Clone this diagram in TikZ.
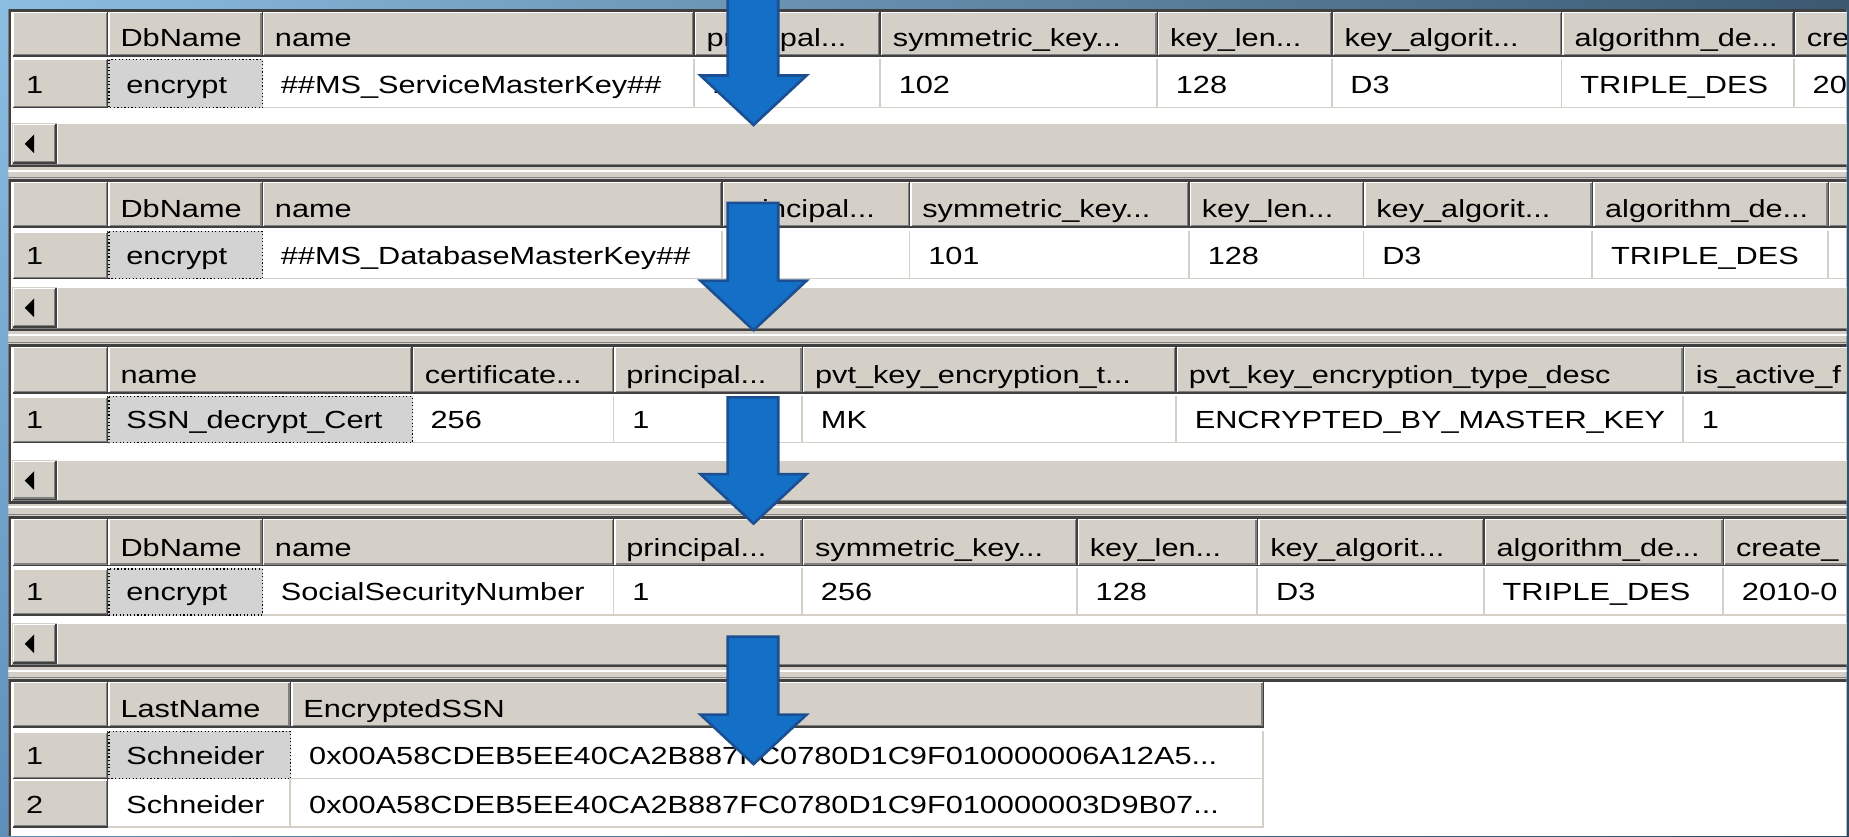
\documentclass[tikz,border=0pt]{standalone}
\usepackage{fontspec}
\setmainfont{Liberation Sans}[FakeStretch=1.24]
\usetikzlibrary{shadings}
\definecolor{bgA}{HTML}{8CBEE2}
\definecolor{bgB}{HTML}{3A5870}
\definecolor{bgC}{HTML}{5E8FBA}
\definecolor{bgD}{HTML}{2E4B63}
\definecolor{hdrfill}{HTML}{D4D0C8}
\definecolor{shdmid}{HTML}{808080}
\definecolor{shddark}{HTML}{404040}
\definecolor{gridc}{HTML}{D4D0C8}
\definecolor{selfill}{HTML}{D3D3D3}
\definecolor{arrowfill}{HTML}{146FC7}
\definecolor{arrowline}{HTML}{1B4F91}
\tikzset{
  txt/.style={inner sep=0pt, anchor=base west, font=\fontsize{21}{21}\selectfont, text=black},
  arrowshape/.style={draw=arrowline, fill=arrowfill, line width=2.2pt, line join=miter},
}
% header / button cell: name, x1, x2, y1, y2, text
\newcommand\HdrCell[6]{%
  \fill[hdrfill] (#2,#4) rectangle (#3,#5);
  \draw[shddark, line width=1.2pt] (#2,#5-0.6) -- (#3-0.6,#5-0.6) -- (#3-0.6,#4);
  \draw[shdmid, line width=1.2pt] (#2+1.2,#5-1.8) -- (#3-1.8,#5-1.8) -- (#3-1.8,#4+1.2);
  \draw[white, line width=1.2pt] (#2+0.6,#5-1.2) -- (#2+0.6,#4+0.6) -- (#3-1.2,#4+0.6);
  \node[txt] (#1) at (#2+10,#5-8.5) {#6};}
\newcommand\RowHdr[6]{%
  \fill[hdrfill] (#2,#4) rectangle (#3,#5);
  \draw[shddark, line width=1.2pt] (#2,#5-0.6) -- (#3-0.6,#5-0.6) -- (#3-0.6,#4);
  \draw[shdmid, line width=1.2pt] (#2+1.2,#5-1.8) -- (#3-1.8,#5-1.8) -- (#3-1.8,#4+1.2);
  \draw[white, line width=1.2pt] (#2+0.6,#5-1.2) -- (#2+0.6,#4+0.6) -- (#3-1.2,#4+0.6);
  \node[txt] (#1) at (#2+11,#5-12.5) {#6};}
\newcommand\DataCell[6]{%
  \draw[gridc, line width=1.5pt] (#3-0.75,#4) -- (#3-0.75,#5-0.75) -- (#2,#5-0.75);
  \node[txt] (#1) at (#2+15,#5-12.5) {#6};}
\newcommand\SelCell[6]{%
  \fill[selfill] (#2,#4) rectangle (#3,#5);
  \draw[black, dotted, line width=1pt] (#2+0.5,#4+0.5) rectangle (#3-0.5,#5-0.5);
  \node[txt] (#1) at (#2+15,#5-12.5) {#6};}
% panel with scrollbar: name, T, S1, S2, B
\newcommand\PanelBox[5]{%
  \fill[white] (7,#2) rectangle (1566,#5);
  \fill[hdrfill] (10,#3) rectangle (1566,#4);
  \draw[white, line width=1.2pt] (48.6,#4) -- (48.6,#3+0.6) -- (1566,#3+0.6);
  \draw[shdmid, line width=1.2pt] (10,#4-0.6) -- (1566,#4-0.6);
  \HdrCell{#1btn}{11}{48}{#3+1}{#4-1}{}
  \fill (21,{(#3+#4)/2}) -- (29,{(#3+#4)/2-8}) -- (29,{(#3+#4)/2+8}) -- cycle;
  \draw[shddark, line width=2pt] (8,#5) -- (8,#2+1) -- (1566,#2+1);
  \draw[shddark, line width=2pt] (8,#5-1) -- (1566,#5-1);}
\newcommand\Splitter[2]{%
  \fill[hdrfill] (7,#1) rectangle (1566,#2);
  \draw[white, line width=2pt] (7,#1+3) -- (1566,#1+3);
  \draw[shdmid, line width=1pt] (7,#2-1.5) -- (1566,#2-1.5);}
\newcommand\DownArrow[2]{%
  \draw[arrowshape] (617,#1) -- (660,#1) -- (660,#2) -- (684,#2) -- (639,#2+42) -- (594,#2) -- (617,#2) -- cycle;}
\begin{document}
\begin{tikzpicture}[x=1pt,y=-1pt]
\useasboundingbox (0,0) rectangle (1568,709);
\shade[upper left=bgA, upper right=bgB, lower left=bgC, lower right=bgD] (0,0) rectangle (1568,709);
\begin{scope}
\clip (7,0) rectangle (1566,709);
% ---------- panel 1
\PanelBox{pa}{8}{104}{140}{142}
\HdrCell{p1h0}{11}{92}{10}{48}{}
\HdrCell{p1h1}{92}{223}{10}{48}{DbName}
\HdrCell{p1h2}{223}{589}{10}{48}{name}
\HdrCell{p1h3}{589}{747}{10}{48}{principal...}
\HdrCell{p1h4}{747}{982}{10}{48}{symmetric\_key...}
\HdrCell{p1h5}{982}{1130}{10}{48}{key\_len...}
\HdrCell{p1h6}{1130}{1325}{10}{48}{key\_algorit...}
\HdrCell{p1h7}{1325}{1522}{10}{48}{algorithm\_de...}
\HdrCell{p1h8}{1522}{1720}{10}{48}{cre}
\RowHdr{p1r0}{11}{92}{50}{92}{1}
\SelCell{p1c1}{92}{223}{50}{92}{encrypt}
\DataCell{p1c2}{223}{589}{50}{92}{\#\#MS\_ServiceMasterKey\#\#}
\DataCell{p1c3}{589}{747}{50}{92}{1}
\DataCell{p1c4}{747}{982}{50}{92}{102}
\DataCell{p1c5}{982}{1130}{50}{92}{128}
\DataCell{p1c6}{1130}{1325}{50}{92}{D3}
\DataCell{p1c7}{1325}{1522}{50}{92}{TRIPLE\_DES}
\DataCell{p1c8}{1522}{1720}{50}{92}{20}
\Splitter{142}{152}
% ---------- panel 2
\PanelBox{pb}{152}{243}{279}{281}
\HdrCell{p2h0}{11}{92}{154}{193}{}
\HdrCell{p2h1}{92}{223}{154}{193}{DbName}
\HdrCell{p2h2}{223}{613}{154}{193}{name}
\HdrCell{p2h3}{613}{772}{154}{193}{principal...}
\HdrCell{p2h4}{772}{1009}{154}{193}{symmetric\_key...}
\HdrCell{p2h5}{1009}{1157}{154}{193}{key\_len...}
\HdrCell{p2h6}{1157}{1351}{154}{193}{key\_algorit...}
\HdrCell{p2h7}{1351}{1551}{154}{193}{algorithm\_de...}
\HdrCell{p2h8}{1551}{1720}{154}{193}{}
\RowHdr{p2r0}{11}{92}{196}{237}{1}
\SelCell{p2c1}{92}{223}{196}{237}{encrypt}
\DataCell{p2c2}{223}{613}{196}{237}{\#\#MS\_DatabaseMasterKey\#\#}
\DataCell{p2c3}{613}{772}{196}{237}{1}
\DataCell{p2c4}{772}{1009}{196}{237}{101}
\DataCell{p2c5}{1009}{1157}{196}{237}{128}
\DataCell{p2c6}{1157}{1351}{196}{237}{D3}
\DataCell{p2c7}{1351}{1551}{196}{237}{TRIPLE\_DES}
\DataCell{p2c8}{1551}{1720}{196}{237}{}
\Splitter{281}{292}
% ---------- panel 3
\PanelBox{pc}{292}{390}{425}{427}
\HdrCell{p3h0}{11}{92}{294}{334}{}
\HdrCell{p3h1}{92}{350}{294}{334}{name}
\HdrCell{p3h2}{350}{521}{294}{334}{certificate...}
\HdrCell{p3h3}{521}{681}{294}{334}{principal...}
\HdrCell{p3h4}{681}{998}{294}{334}{pvt\_key\_encryption\_t...}
\HdrCell{p3h5}{998}{1428}{294}{334}{pvt\_key\_encryption\_type\_desc}
\HdrCell{p3h6}{1428}{1720}{294}{334}{is\_active\_f}
\RowHdr{p3r0}{11}{92}{336}{376}{1}
\SelCell{p3c1}{92}{350}{336}{376}{SSN\_decrypt\_Cert}
\DataCell{p3c2}{350}{521}{336}{376}{256}
\DataCell{p3c3}{521}{681}{336}{376}{1}
\DataCell{p3c4}{681}{998}{336}{376}{MK}
\DataCell{p3c5}{998}{1428}{336}{376}{ENCRYPTED\_BY\_MASTER\_KEY}
\DataCell{p3c6}{1428}{1720}{336}{376}{1}
\Splitter{427}{438}
% ---------- panel 4
\PanelBox{pd}{438}{528}{564}{566}
\HdrCell{p4h0}{11}{92}{440}{480}{}
\HdrCell{p4h1}{92}{223}{440}{480}{DbName}
\HdrCell{p4h2}{223}{521}{440}{480}{name}
\HdrCell{p4h3}{521}{681}{440}{480}{principal...}
\HdrCell{p4h4}{681}{914}{440}{480}{symmetric\_key...}
\HdrCell{p4h5}{914}{1067}{440}{480}{key\_len...}
\HdrCell{p4h6}{1067}{1259}{440}{480}{key\_algorit...}
\HdrCell{p4h7}{1259}{1462}{440}{480}{algorithm\_de...}
\HdrCell{p4h8}{1462}{1720}{440}{480}{create\_}
\RowHdr{p4r0}{11}{92}{482}{522}{1}
\SelCell{p4c1}{92}{223}{482}{522}{encrypt}
\DataCell{p4c2}{223}{521}{482}{522}{SocialSecurityNumber}
\DataCell{p4c3}{521}{681}{482}{522}{1}
\DataCell{p4c4}{681}{914}{482}{522}{256}
\DataCell{p4c5}{914}{1067}{482}{522}{128}
\DataCell{p4c6}{1067}{1259}{482}{522}{D3}
\DataCell{p4c7}{1259}{1462}{482}{522}{TRIPLE\_DES}
\DataCell{p4c8}{1462}{1720}{482}{522}{2010-0}
\Splitter{566}{576}
% ---------- panel 5
\fill[white] (7,576) rectangle (1566,709);
\draw[shddark, line width=2pt] (8,709) -- (8,577) -- (1566,577);
\HdrCell{p5h0}{11}{92}{578}{617}{}
\HdrCell{p5h1}{92}{247}{578}{617}{LastName}
\HdrCell{p5h2}{247}{1072}{578}{617}{EncryptedSSN}
\RowHdr{p5r1}{11}{92}{620}{661}{1}
\SelCell{p5c11}{92}{247}{620}{661}{Schneider}
\DataCell{p5c12}{247}{1072}{620}{661}{0x00A58CDEB5EE40CA2B887FC0780D1C9F010000006A12A5...}
\RowHdr{p5r2}{11}{92}{661}{702}{2}
\DataCell{p5c21}{92}{247}{661}{702}{Schneider}
\DataCell{p5c22}{247}{1072}{661}{702}{0x00A58CDEB5EE40CA2B887FC0780D1C9F010000003D9B07...}
\end{scope}
% ---------- arrows
\DownArrow{-5}{64}
\DownArrow{172}{238}
\DownArrow{337}{402}
\DownArrow{540}{606}
\end{tikzpicture}
\end{document}
